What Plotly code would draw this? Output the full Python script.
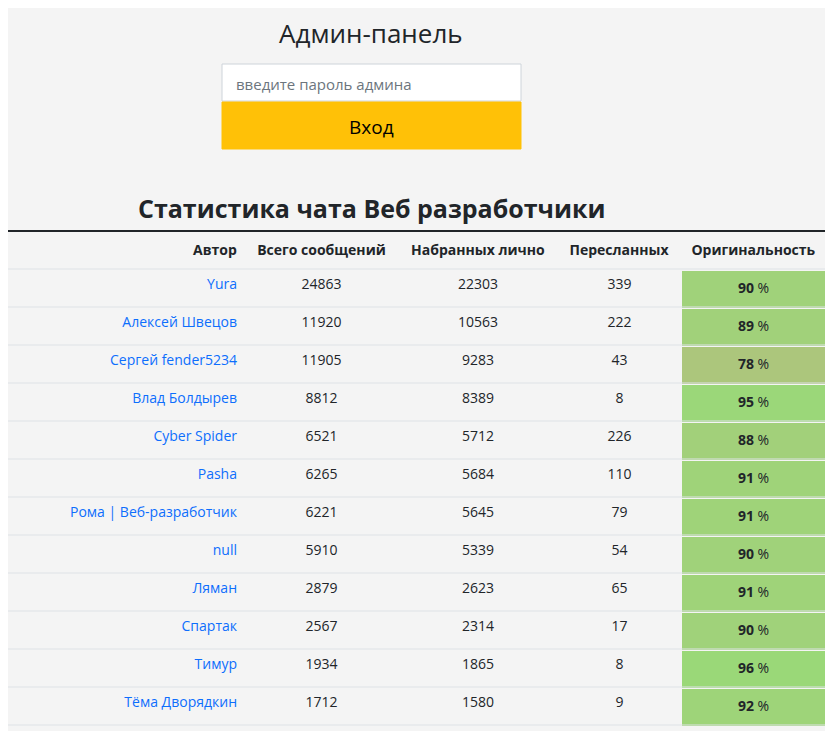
import plotly.graph_objects as go

# данные таблицы
authors = ["Yura", "Алексей Швецов", "Сергей fender5234", "Влад Болдырев", "Cyber Spider",
           "Pasha", "Рома | Веб-разработчик", "null", "Ляман", "Спартак", "Тимур", "Тёма Дворядкин"]
total = [24863, 11920, 11905, 8812, 6521, 6265, 6221, 5910, 2879, 2567, 1934, 1712]
typed = [22303, 10563, 9283, 8389, 5712, 5684, 5645, 5339, 2623, 2314, 1865, 1580]
forwarded = [339, 222, 43, 8, 226, 110, 79, 54, 65, 17, 8, 9]
originality = [90, 89, 78, 95, 88, 91, 91, 90, 91, 90, 96, 92]
headers = ["Автор", "Всего сообщений", "Набранных лично", "Пересланных", "Оригинальность"]

OFF = 8  # отступ body в странице
W, H = 833 - OFF, 731 - OFF
BG = "#f4f4f4"
FONT = "Open Sans"


def green(p):
    # чем выше оригинальность, тем зеленее
    t = (p - 75) / 25
    r = int(175 - 25 * t)
    g = int(195 + 25 * t)
    b = int(125 - 5 * t)
    return f"rgb({r},{g},{b})"


def px_x(px):
    return max(px - OFF, 0) / W


def py(px):
    return 1 - (px - OFF) / H


def nb(s):
    return str(s).replace(" ", "\u00a0")


n = len(authors)
table_top = 231
row_h = 38
fills = [[BG] * n] * 4 + [[green(p) for p in originality]]

fig = go.Figure(go.Table(
    domain=dict(x=[0, px_x(826)], y=[0, py(table_top + 1)]),
    columnwidth=[237, 153, 160, 123, 145],
    header=dict(
        values=[f"<b>{nb(h)}</b>" for h in headers],
        align=["right", "center", "center", "center", "center"],
        fill_color=BG, line_color=BG, height=row_h,
        font=dict(family=FONT, size=14, color="#212529"),
    ),
    cells=dict(
        values=[[nb(a) for a in authors], total, typed, forwarded,
                [f"<b>{p}</b>\u00a0%" for p in originality]],
        align=["right", "center", "center", "center", "center"],
        fill_color=fills, line_color=BG, height=row_h,
        font=dict(family=FONT, size=14,
                  color=[["#0d6efd"] * n, ["#212529"] * n, ["#212529"] * n,
                         ["#212529"] * n, ["#212529"] * n]),
    ),
))

shapes = [
    dict(type="line", xref="paper", yref="paper", x0=0, x1=px_x(826),
         y0=py(table_top), y1=py(table_top), line=dict(color="#212529", width=2)),
]
for i in range(n + 1):
    y = table_top + row_h + i * row_h
    shapes.append(dict(type="line", xref="paper", yref="paper", x0=0, x1=px_x(826),
                       y0=py(y), y1=py(y), line=dict(color="#dee2e6", width=1)))
# поле ввода и кнопка
shapes.append(dict(type="rect", xref="paper", yref="paper", x0=px_x(222), x1=px_x(521),
                   y0=py(101), y1=py(64), fillcolor="white", line=dict(color="#ced4da", width=1)))
shapes.append(dict(type="rect", xref="paper", yref="paper", x0=px_x(222), x1=px_x(521),
                   y0=py(149), y1=py(102), fillcolor="#ffc107", line=dict(color="#ffc107", width=1)))

annotations = [
    dict(text="Админ-панель", x=px_x(371), y=py(33), font=dict(size=26, color="#212529")),
    dict(text="введите пароль админа", x=px_x(234), y=py(84), xanchor="left",
         font=dict(size=15, color="#6c757d")),
    dict(text="Вход", x=px_x(371), y=py(127), font=dict(size=19, color="#000")),
    dict(text="<b>Статистика чата Веб разработчики</b>", x=px_x(371), y=py(208),
         font=dict(size=25, color="#212529")),
]
for a in annotations:
    a.update(xref="paper", yref="paper", showarrow=False, yanchor="middle")
    a.setdefault("xanchor", "center")
    a["font"]["family"] = FONT

fig.update_layout(
    width=W, height=H, margin=dict(l=0, r=0, t=0, b=0),
    paper_bgcolor=BG, plot_bgcolor=BG,
    shapes=shapes, annotations=annotations,
)

fig.write_html("out.html")
